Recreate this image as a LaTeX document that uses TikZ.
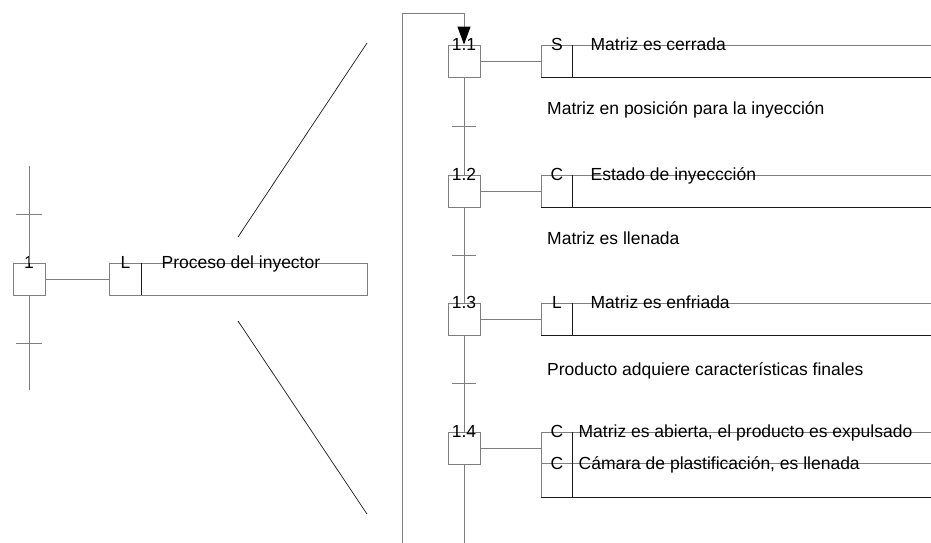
\documentclass[tikz,border=0pt]{standalone}
\usepackage{fontspec}
\setmainfont{Liberation Sans}
\usetikzlibrary{arrows.meta,positioning,calc}
\definecolor{linegray}{HTML}{7F7F7F}
\definecolor{darkline}{HTML}{1A1A1A}

\begin{document}
\begin{tikzpicture}[
    x=1pt, y=-1pt,
    font=\fontsize{17.5}{21}\selectfont,
    stepbox/.style={rectangle, draw=linegray, line width=0.9pt, minimum size=32pt, inner sep=0pt},
    stepnum/.style={anchor=center, inner sep=0pt},
    actbox/.style={rectangle, draw=linegray, line width=0.9pt, minimum width=420pt, minimum height=32pt, inner sep=0pt},
    qual/.style={anchor=center, inner sep=0pt},
    acttext/.style={anchor=base west, inner sep=0pt},
    cond/.style={anchor=base west, inner sep=0pt},
    wire/.style={draw=linegray, line width=0.9pt},
    divline/.style={draw=darkline, line width=0.7pt},
    arr/.style={wire, -{Triangle[length=18pt, width=13pt, color=black]}},
]
    \useasboundingbox (0,0) rectangle (931,542);
    \clip (0,0) rectangle (931,542);

    % Macro step (left)
    \node[stepbox, label={[stepnum]north:1}] (s1) at (29,279) {};
    \node[actbox, minimum width=258pt, right=64pt of s1.north east, anchor=north west] (a1) {};
    \draw[divline] ($(a1.north west)+(32,0)$) -- ($(a1.south west)+(32,0)$);
    \node[qual] (q1) at ($(a1.north west)+(16,0)$) {L};
    \node[acttext] (t1) at ($(a1.north west)+(52,6)$) {Proceso del inyector};
    \draw[wire] (s1) -- (a1);

    % Left column and transitions
    \coordinate (ltop) at (29,166);
    \coordinate (lbot) at (29,390);
    \coordinate (tr0) at (29,214);
    \coordinate (tr1) at (29,343);
    \draw[wire] (ltop) -- (s1) -- (lbot);
    \draw[wire] (tr0) ++(-13,0) -- ++(26,0);
    \draw[wire] (tr1) ++(-13,0) -- ++(26,0);

    % Zoom lines
    \coordinate (zu1) at (238,237);
    \coordinate (zu2) at (367,43);
    \coordinate (zl1) at (238,321);
    \coordinate (zl2) at (367,514);
    \draw[divline] (zu1) -- (zu2);
    \draw[divline] (zl1) -- (zl2);

    % Steps of the expansion
    \node[stepbox, label={[stepnum]north:1.1}] (s11) at (464,61) {};
    \node[stepbox, label={[stepnum]north:1.2}] (s12) at (464,191) {};
    \node[stepbox, label={[stepnum]north:1.3}] (s13) at (464,319) {};
    \node[stepbox, label={[stepnum]north:1.4}] (s14) at (464,448) {};

    % Actions
    \node[actbox, right=61pt of s11.north east, anchor=north west] (a11) {};
    \draw[divline] ($(a11.north west)+(31,0)$) -- ($(a11.south west)+(31,0)$);
    \draw[divline] (a11.south west) -- (a11.south east);
    \node[qual] (q11) at ($(a11.north west)+(15.5,0)$) {S};
    \node[acttext] (t11) at ($(a11.north west)+(49,6)$) {Matriz es cerrada};

    \node[actbox, right=61pt of s12.north east, anchor=north west] (a12) {};
    \draw[divline] ($(a12.north west)+(31,0)$) -- ($(a12.south west)+(31,0)$);
    \draw[divline] (a12.south west) -- (a12.south east);
    \node[qual] (q12) at ($(a12.north west)+(15.5,0)$) {C};
    \node[acttext] (t12) at ($(a12.north west)+(49,6)$) {Estado de inyeccción};

    \node[actbox, right=61pt of s13.north east, anchor=north west] (a13) {};
    \draw[divline] ($(a13.north west)+(31,0)$) -- ($(a13.south west)+(31,0)$);
    \draw[divline] (a13.south west) -- (a13.south east);
    \node[qual] (q13) at ($(a13.north west)+(15.5,0)$) {L};
    \node[acttext] (t13) at ($(a13.north west)+(49,6)$) {Matriz es enfriada};

    \node[actbox, minimum height=65pt, right=61pt of s14.north east, anchor=north west] (a14) {};
    \draw[wire] ($(a14.north west)+(0,32)$) -- ($(a14.north east)+(0,32)$);
    \draw[divline] ($(a14.north west)+(31,0)$) -- ($(a14.south west)+(31,0)$);
    \draw[divline] (a14.south west) -- (a14.south east);
    \node[qual] (q14a) at ($(a14.north west)+(15.5,0)$) {C};
    \node[acttext] (t14a) at ($(a14.north west)+(37,6)$) {Matriz es abierta, el producto es expulsado};
    \node[qual] (q14b) at ($(a14.north west)+(15.5,32)$) {C};
    \node[acttext] (t14b) at ($(a14.north west)+(37,38)$) {Cámara de plastificación, es llenada};

    \draw[wire] (s11) -- (a11);
    \draw[wire] (s12) -- (a12);
    \draw[wire] (s13) -- (a13);
    \draw[wire] (s14.east) -- (s14.east -| a14.west);

    % Column, transitions and receptivities
    \coordinate (colend) at (464,545);
    \draw[wire] (s11) -- (s12) -- (s13) -- (s14) -- (colend);
    \coordinate (tr11) at (464,126);
    \coordinate (tr12) at (464,255);
    \coordinate (tr13) at (464,383);
    \draw[wire] (tr11) ++(-12,0) -- ++(24,0);
    \draw[wire] (tr12) ++(-12,0) -- ++(24,0);
    \draw[wire] (tr13) ++(-12,0) -- ++(24,0);
    \node[cond] (c11) at (547,114) {Matriz en posición para la inyección};
    \node[cond] (c12) at (547,244) {Matriz es llenada};
    \node[cond] (c13) at (547,375) {Producto adquiere características finales};

    % Loop back to 1.1
    \coordinate (loopb) at (402,545);
    \coordinate (loopt) at (402,13);
    \draw[arr] (loopb) -- (loopt) -| (s11.north);
\end{tikzpicture}
\end{document}
